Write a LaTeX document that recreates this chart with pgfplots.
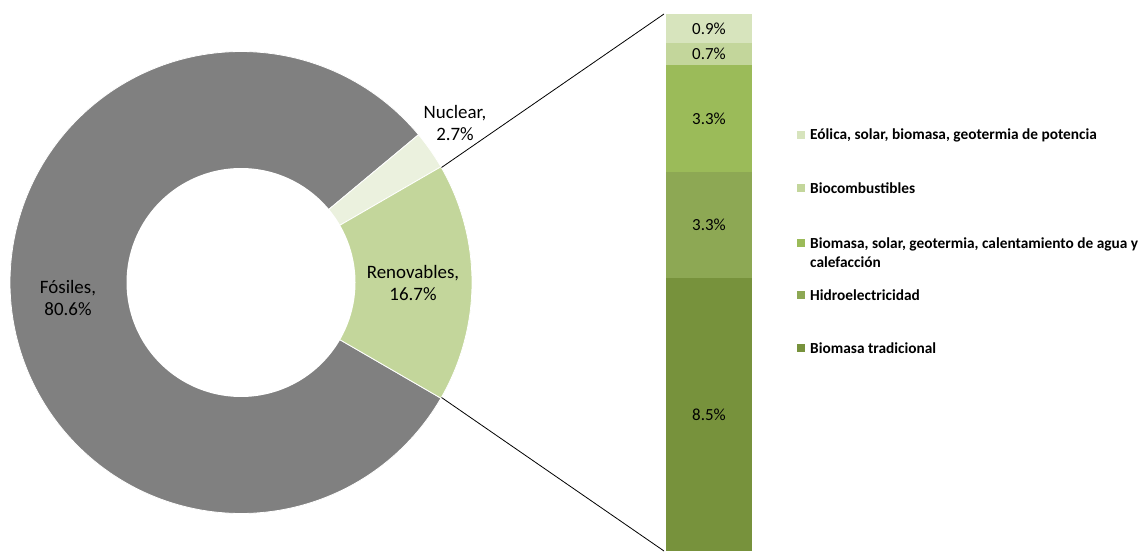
\documentclass[border=0pt]{standalone}
\usepackage{pgfplots}
\pgfplotsset{compat=1.18}
\usepackage{fontspec}
\setmainfont{Carlito}
\definecolor{fosil}{HTML}{808080}
\definecolor{nuclear}{HTML}{EBF1DE}
\definecolor{renov}{HTML}{C3D69B}
\definecolor{cA}{HTML}{D7E4BD}
\definecolor{cB}{HTML}{C3D69B}
\definecolor{cC}{HTML}{9BBB59}
\definecolor{cD}{HTML}{8DA854}
\definecolor{cE}{HTML}{77923C}
% donut values (%)
\def\vFos{80.6}
\def\vNuc{2.7}
\def\vRen{16.7}
% bar values (%)
\def\bTrad{8.5}
\def\bHidro{3.3}
\def\bCalef{3.3}
\def\bBiocomb{0.7}
\def\bEolica{0.9}
\begin{document}
\begin{tikzpicture}
\pgfmathsetmacro{\aRs}{-\vRen*1.8}
\pgfmathsetmacro{\aRe}{\vRen*1.8}
\pgfmathsetmacro{\aNe}{\aRe+\vNuc*3.6}
\pgfmathsetmacro{\aFe}{\aNe+\vFos*3.6}
\def\cx{241}
\def\cy{272.5}
\def\R{231}
\def\r{114.5}
\begin{axis}[at={(0,0)}, anchor=south west, scale only axis,
  width=1144bp, height=555bp, xmin=0, xmax=1144, ymin=0, ymax=555,
  hide axis, clip=false]
% donut wedges
\addplot[fill=fosil, draw=white, line width=0.8bp, domain=\aNe:\aFe, samples=200]
  ({\cx+\R*cos(x)},{\cy+\R*sin(x)}) -- (axis cs:\cx,\cy) -- cycle;
\addplot[fill=nuclear, draw=white, line width=0.8bp, domain=\aRe:\aNe, samples=20]
  ({\cx+\R*cos(x)},{\cy+\R*sin(x)}) -- (axis cs:\cx,\cy) -- cycle;
\addplot[fill=renov, draw=white, line width=0.8bp, domain=\aRs:\aRe, samples=60]
  ({\cx+\R*cos(x)},{\cy+\R*sin(x)}) -- (axis cs:\cx,\cy) -- cycle;
\addplot[fill=white, draw=none, domain=0:360, samples=200]
  ({\cx+\r*cos(x)},{\cy+\r*sin(x)}) -- cycle;
% connectors
\draw[black, line width=0.8bp] (axis cs:441.5,387.5) -- (axis cs:664,541);
\draw[black, line width=0.8bp] (axis cs:441.5,157.5) -- (axis cs:664,4);
% donut labels
\node[font=\fontsize{19}{22}\selectfont, align=center] at (axis cs:68,257) {Fósiles,\\80.6\%};
\node[font=\fontsize{19}{22}\selectfont, align=center] at (axis cs:413,272) {Renovables,\\16.7\%};
\node[font=\fontsize{19}{22}\selectfont, align=center] at (axis cs:455,432) {Nuclear,\\2.7\%};
% legend
\fill[cA] (axis cs:797,416) rectangle (axis cs:805,424);
\node[anchor=west, font=\bfseries\fontsize{15.4}{18}\selectfont, inner sep=0pt] at (axis cs:810,420) {Eólica, solar, biomasa, geotermia de potencia};
\fill[cB] (axis cs:797,363) rectangle (axis cs:805,371);
\node[anchor=west, font=\bfseries\fontsize{15.4}{18}\selectfont, inner sep=0pt] at (axis cs:810,367) {Biocombustibles};
\fill[cC] (axis cs:797,308) rectangle (axis cs:805,316);
\node[anchor=west, font=\bfseries\fontsize{15.4}{19}\selectfont, inner sep=0pt, align=left] at (axis cs:810,302.5) {Biomasa, solar, geotermia, calentamiento de agua y\\calefacción};
\fill[cD] (axis cs:797,256) rectangle (axis cs:805,264);
\node[anchor=west, font=\bfseries\fontsize{15.4}{18}\selectfont, inner sep=0pt] at (axis cs:810,260) {Hidroelectricidad};
\fill[cE] (axis cs:797,203) rectangle (axis cs:805,211);
\node[anchor=west, font=\bfseries\fontsize{15.4}{18}\selectfont, inner sep=0pt] at (axis cs:810,207) {Biomasa tradicional};
\end{axis}
\begin{axis}[at={(666bp,4bp)}, anchor=south west, scale only axis,
  width=86bp, height=537bp, xmin=0, xmax=1, ymin=0, ymax=16.7,
  hide axis, clip=false, ybar stacked, bar width=86bp]
\addplot[fill=cE, draw=none] coordinates {(0.5,\bTrad)};
\addplot[fill=cD, draw=none] coordinates {(0.5,\bHidro)};
\addplot[fill=cC, draw=none] coordinates {(0.5,\bCalef)};
\addplot[fill=cB, draw=none] coordinates {(0.5,\bBiocomb)};
\addplot[fill=cA, draw=none] coordinates {(0.5,\bEolica)};
\end{axis}
\begin{axis}[at={(666bp,4bp)}, anchor=south west, scale only axis,
  width=86bp, height=537bp, xmin=0, xmax=1, ymin=0, ymax=16.7,
  hide axis, clip=false]
\node[font=\fontsize{17}{20}\selectfont, text=black] at (axis cs:0.5,4.25) {8.5\%};
\node[font=\fontsize{17}{20}\selectfont, text=black] at (axis cs:0.5,10.15) {3.3\%};
\node[font=\fontsize{17}{20}\selectfont, text=black] at (axis cs:0.5,13.45) {3.3\%};
\node[font=\fontsize{17}{20}\selectfont, text=black] at (axis cs:0.5,15.45) {0.7\%};
\node[font=\fontsize{17}{20}\selectfont, text=black] at (axis cs:0.5,16.25) {0.9\%};
\end{axis}
\path (0,0) rectangle (1144bp,555bp);
\end{tikzpicture}
\end{document}
